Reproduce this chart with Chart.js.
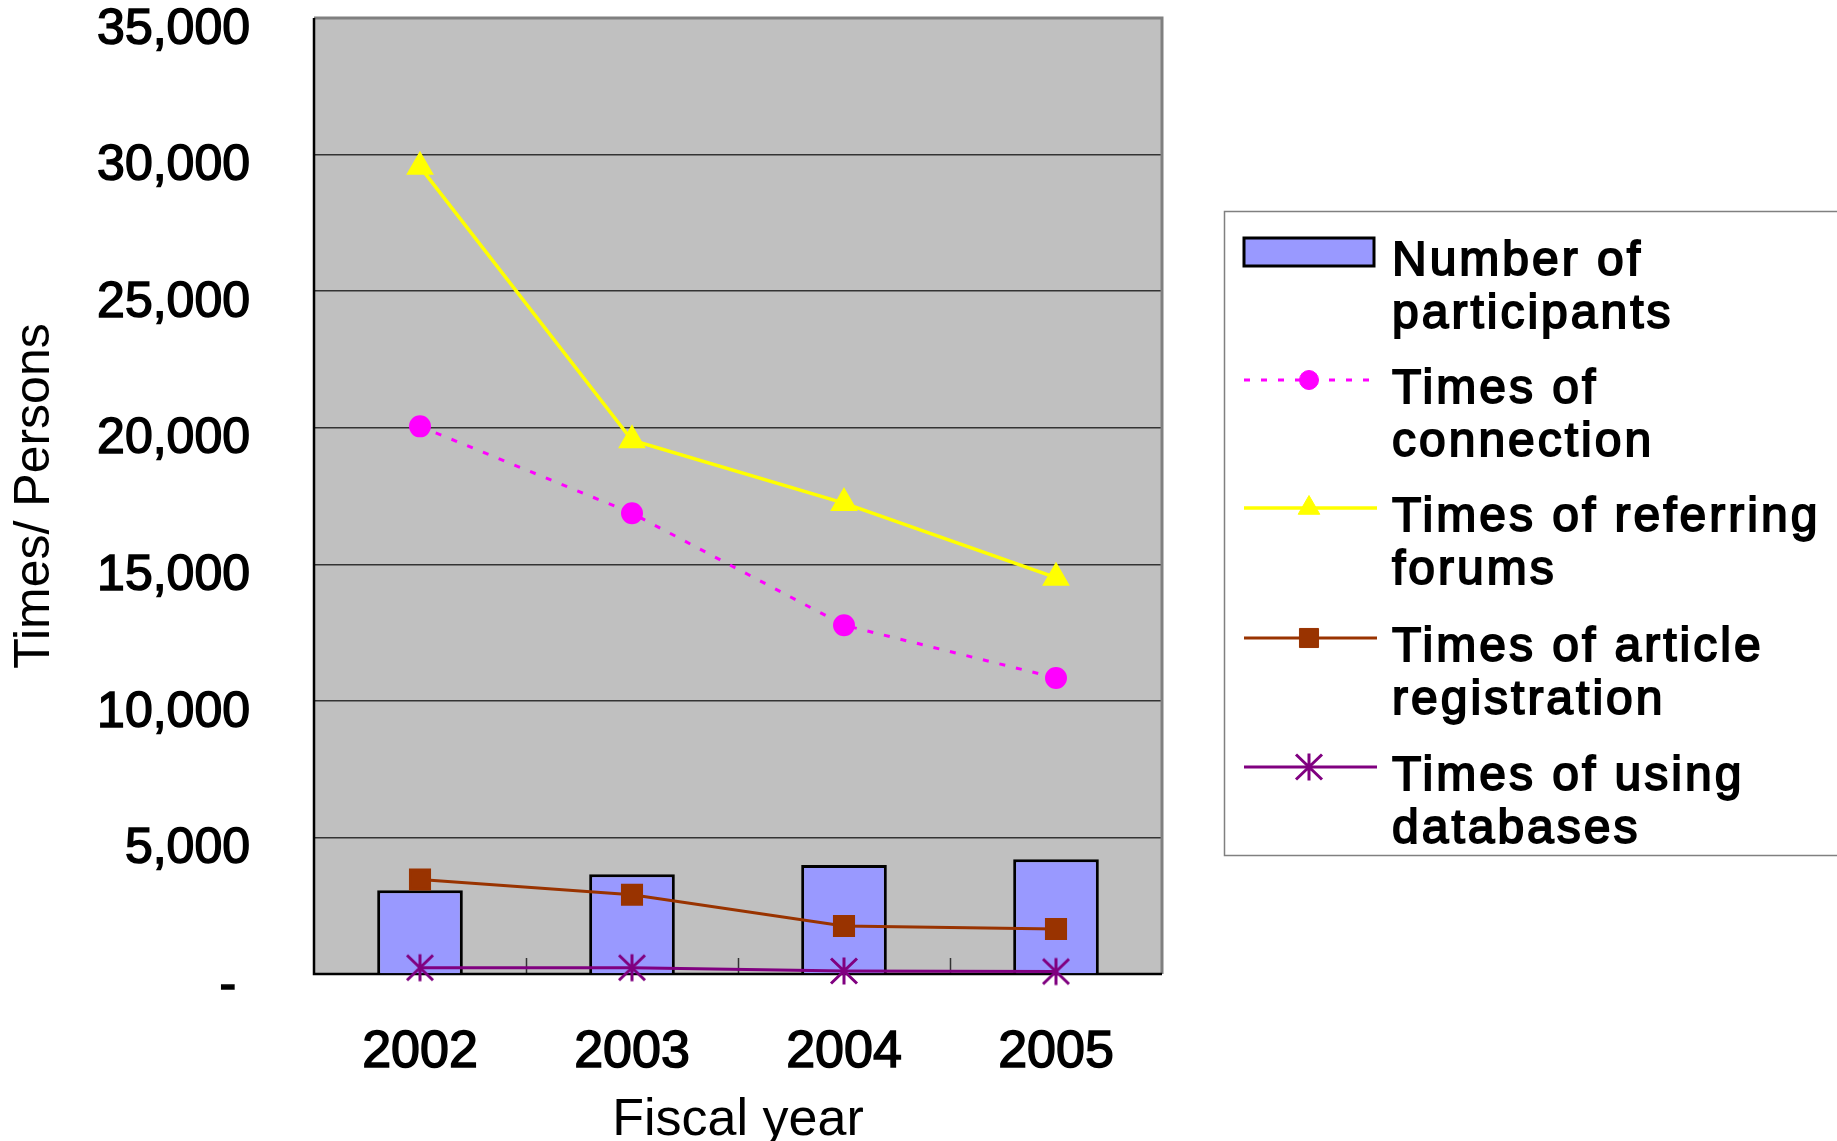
<!DOCTYPE html>
<html>
<head>
<meta charset="utf-8">
<title>Participants and usage by fiscal year</title>
<script src="https://cdn.jsdelivr.net/npm/chart.js@4.4.1/dist/chart.umd.min.js"></script>
<style>
  html, body { margin: 0; padding: 0; background: #fff; }
  #wrap { width: 1837px; height: 1141px; position: relative; }
</style>
</head>
<body>
<div id="wrap"><canvas id="chart" width="1837" height="1141"></canvas></div>
<script>
// values
const years = ["2002", "2003", "2004", "2005"];
const participants = [3070, 3650, 3990, 4200];
const connections = [20050, 16870, 12770, 10840];
const forumRefs = [29550, 19540, 17240, 14510];
const articleRegs = [3460, 2900, 1760, 1650];
const dbUses = [230, 230, 110, 90];
const yMin = 0, yMax = 35000, yStep = 5000;
const seriesNames = [
  ["Number of", "participants"],
  ["Times of", "connection"],
  ["Times of referring", "forums"],
  ["Times of article", "registration"],
  ["Times of using", "databases"],
];

const FONT = '"Liberation Sans", Arial, sans-serif';
Chart.defaults.font.family = FONT;
Chart.defaults.color = "#000";

// excel style asterisk marker
function makeAsterisk(color) {
  const c = document.createElement("canvas");
  c.width = 30; c.height = 30;
  const g = c.getContext("2d");
  g.strokeStyle = color;
  g.lineWidth = 3;
  g.beginPath();
  g.moveTo(15, 1.5); g.lineTo(15, 28.5);
  g.moveTo(2, 2.5); g.lineTo(28, 27.5);
  g.moveTo(28, 2.5); g.lineTo(2, 27.5);
  g.stroke();
  return c;
}
const asterisk = makeAsterisk("#800080");

const plotFrame = {
  id: "plotFrame",
  beforeDraw(chart) {
    const { left, right, top, bottom } = chart.chartArea;
    const ctx = chart.ctx;
    ctx.save();
    ctx.fillStyle = "#C0C0C0";
    ctx.fillRect(left, top, right - left, bottom - top);
    ctx.restore();
  },
  beforeDatasetsDraw(chart) {
    const { left, right, top, bottom } = chart.chartArea;
    const ctx = chart.ctx;
    const x = chart.scales.x;
    ctx.save();
    ctx.strokeStyle = "#808080";
    ctx.lineWidth = 3;
    ctx.beginPath();
    ctx.moveTo(left, top); ctx.lineTo(right, top); ctx.lineTo(right, bottom);
    ctx.stroke();
    // inside tick marks between categories
    ctx.strokeStyle = "#333";
    ctx.lineWidth = 1.5;
    ctx.beginPath();
    for (let i = 0; i < years.length - 1; i++) {
      const px = Math.round((x.getPixelForValue(i) + x.getPixelForValue(i + 1)) / 2) + 0.5;
      ctx.moveTo(px, bottom); ctx.lineTo(px, bottom - 16);
    }
    ctx.stroke();
    ctx.strokeStyle = "#000";
    ctx.lineWidth = 2.5;
    ctx.beginPath();
    ctx.moveTo(left, top); ctx.lineTo(left, bottom); ctx.lineTo(right, bottom);
    ctx.stroke();
    ctx.restore();
  },
};

// legend with wrapped labels, drawn by hand
const boxLegend = {
  id: "boxLegend",
  afterDraw(chart) {
    const ctx = chart.ctx;
    const rowY = [262, 390, 518, 648, 777];
    const lineGap = 52.7;
    ctx.save();
    ctx.strokeStyle = "#808080";
    ctx.lineWidth = 1.5;
    ctx.strokeRect(1224.5, 211.5, 700, 644);
    chart.data.datasets.forEach((ds, i) => {
      const y0 = rowY[i];
      const sy = y0 - 10;
      ctx.save();
      if (ds.type === "bar") {
        ctx.fillStyle = ds.backgroundColor;
        ctx.fillRect(1244, sy - 14, 130, 28);
        ctx.strokeStyle = ds.borderColor;
        ctx.lineWidth = 3;
        ctx.strokeRect(1244, sy - 14, 130, 28);
      } else {
        ctx.strokeStyle = ds.borderColor;
        ctx.lineWidth = ds.borderWidth;
        ctx.setLineDash(ds.borderDash || []);
        ctx.beginPath();
        ctx.moveTo(1244, sy); ctx.lineTo(1377, sy);
        ctx.stroke();
        ctx.setLineDash([]);
        ctx.fillStyle = ds.pointBackgroundColor;
        ctx.strokeStyle = ds.pointBorderColor;
        ctx.lineWidth = 1;
        Chart.helpers.drawPoint(ctx, {
          pointStyle: ds.pointStyle, radius: ds.pointRadius, rotation: 0, borderWidth: 1,
        }, 1309, sy);
      }
      ctx.restore();
      ctx.fillStyle = "#000";
      ctx.strokeStyle = "#000";
      ctx.lineWidth = 1.8;
      ctx.font = "48px " + FONT;
      ctx.letterSpacing = "3px";
      ctx.textBaseline = "middle";
      ctx.textAlign = "left";
      seriesNames[i].forEach((t, j) => {
        ctx.fillText(t, 1392, y0 + j * lineGap);
        ctx.strokeText(t, 1392, y0 + j * lineGap);
      });
    });
    ctx.restore();
  },
};

new Chart(document.getElementById("chart"), {
  data: {
    labels: years,
    datasets: [
      {
        type: "bar",
        label: seriesNames[0].join(" "),
        data: participants,
        backgroundColor: "#9999FF",
        borderColor: "#000000",
        borderWidth: 3,
        categoryPercentage: 1,
        barPercentage: 0.404,
        order: 10,
      },
      {
        type: "line",
        label: seriesNames[1].join(" "),
        data: connections,
        borderColor: "#FF00FF",
        borderWidth: 3,
        borderDash: [6, 11],
        pointStyle: "circle",
        pointRadius: 9.5,
        pointBackgroundColor: "#FF00FF",
        pointBorderColor: "#FF00FF",
        tension: 0,
        fill: false,
        clip: false,
        order: 2,
      },
      {
        type: "line",
        label: seriesNames[2].join(" "),
        data: forumRefs,
        borderColor: "#FFFF00",
        borderWidth: 3.5,
        pointStyle: "triangle",
        pointRadius: 12.5,
        pointBackgroundColor: "#FFFF00",
        pointBorderColor: "#FFFF00",
        tension: 0,
        fill: false,
        clip: false,
        order: 1,
      },
      {
        type: "line",
        label: seriesNames[3].join(" "),
        data: articleRegs,
        borderColor: "#993300",
        borderWidth: 3,
        pointStyle: "rect",
        pointRadius: 13.5,
        pointBackgroundColor: "#993300",
        pointBorderColor: "#993300",
        tension: 0,
        fill: false,
        clip: false,
        order: 3,
      },
      {
        type: "line",
        label: seriesNames[4].join(" "),
        data: dbUses,
        borderColor: "#800080",
        borderWidth: 3,
        pointStyle: asterisk,
        pointRadius: 14,
        pointBackgroundColor: "#800080",
        pointBorderColor: "#800080",
        tension: 0,
        fill: false,
        clip: false,
        order: 4,
      },
    ],
  },
  options: {
    responsive: false,
    animation: false,
    devicePixelRatio: 1,
    layout: { autoPadding: false, padding: { top: 18, right: 675, left: 0, bottom: 0 } },
    plugins: { legend: { display: false }, tooltip: { enabled: false } },
    scales: {
      x: {
        type: "category",
        offset: true,
        grid: { display: false, drawTicks: false },
        border: { display: false },
        ticks: {
          font: { size: 52 },
          padding: 47,
          color: "#000",
          textStrokeColor: "#000",
          textStrokeWidth: 1.5,
        },
        title: {
          display: true,
          text: "Fiscal year",
          font: { size: 52, lineHeight: 0.8 },
          padding: { top: 0, bottom: 0 },
          color: "#000",
        },
        afterFit(scale) {
          scale.height = 167;
          scale.paddingLeft = 0;
          scale.paddingRight = 0;
        },
      },
      y: {
        min: yMin,
        max: yMax,
        grid: { color: "#333", lineWidth: 1.5, drawTicks: false },
        border: { display: false },
        ticks: {
          stepSize: yStep,
          font: { size: 50 },
          padding: 64,
          labelOffset: 12,
          color: "#000",
          textStrokeColor: "#000",
          textStrokeWidth: 1.5,
          callback: (v) => (v === 0 ? "- " : v.toLocaleString("en-US")),
        },
        title: {
          display: true,
          text: "Times/ Persons",
          font: { size: 50 },
          padding: { top: 5, bottom: 0 },
          color: "#000",
        },
        afterFit(scale) {
          scale.width = 314;
          scale.paddingTop = 0;
          scale.paddingBottom = 0;
        },
      },
    },
  },
  plugins: [plotFrame, boxLegend],
});
</script>
</body>
</html>
